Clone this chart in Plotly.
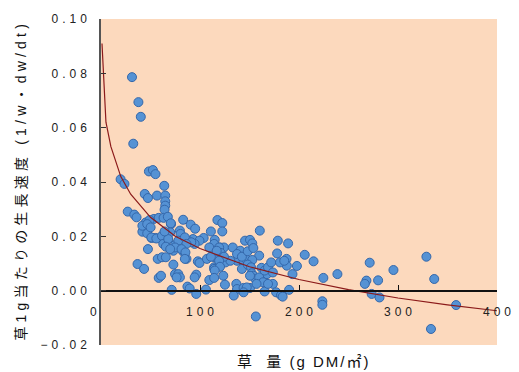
import plotly.graph_objects as go

# Observed data: herbage mass (g DM/m2) vs relative growth rate
herbage_mass = [
    31.3, 37.8, 40.2, 32.6, 19.8, 23.7, 48.4, 52.4, 55.0, 63.9,
    44.2, 47.4, 56.6, 64.9, 27.0, 33.6, 35.9, 64.9, 64.9, 64.2,
    53.4, 58.3, 63.2, 67.5, 45.2, 49.1, 70.8, 83.0, 90.6, 95.1,
    41.8, 46.7, 51.1, 55.0, 65.9, 67.5, 79.7, 80.3, 103.7, 117.6,
    122.5, 122.5, 111.0, 114.9, 114.3, 120.2, 124.2, 47.4, 57.3, 61.6,
    65.5, 73.1, 36.9, 43.5, 74.8, 78.1, 79.7, 58.3, 60.6, 71.4,
    97.8, 96.2, 94.6, 109.4, 114.3, 119.3, 123.5, 125.2, 87.3, 89.6,
    96.2, 106.0, 133.1, 140.6, 145.5, 150.5, 152.8, 160.4, 159.8, 178.6,
    177.9, 189.0, 187.4, 187.7, 137.4, 144.0, 147.2, 152.8, 142.3, 148.2,
    151.5, 162.1, 167.7, 152.2, 153.9, 156.1, 160.4, 173.6, 136.7, 137.4,
    134.1, 144.0, 150.5, 165.3, 176.9, 181.8, 183.5, 190.0, 156.4, 193.4,
    197.9, 205.8, 214.7, 224.6, 238.8, 223.6, 223.6, 271.4, 268.1, 266.5,
    279.9, 295.4, 273.4, 281.3, 328.7, 336.6, 358.7, 333.3, 99.5, 76.4,
    69.9, 74.8, 83.0, 73.1, 86.3, 92.9, 99.5, 94.6, 87.9, 78.1,
    107.0, 114.3, 122.5, 125.8, 130.7, 109.4, 119.3, 120.9, 114.3, 50.9,
    55.9, 61.6, 62.9, 67.9, 70.5, 64.2, 84.7, 91.2, 86.3, 74.8,
    81.3, 85.3, 84.7, 111.0, 116.9, 124.2, 119.3, 120.2, 114.9, 114.3,
    137.4, 142.3, 148.2, 153.9, 150.5, 159.8, 165.3, 168.7, 173.6, 171.9,
    180.8, 185.1, 163.7, 168.7, 157.1, 147.2, 144.0, 41.8, 46.7, 50.1,
    65.5, 69.9,
]
growth_rate = [
    0.0786, 0.0694, 0.0640, 0.0541, 0.0410, 0.0393, 0.0439, 0.0444, 0.0429, 0.0386,
    0.0356, 0.0341, 0.0350, 0.0350, 0.0291, 0.0280, 0.0270, 0.0329, 0.0313, 0.0298,
    0.0264, 0.0268, 0.0268, 0.0272, 0.0251, 0.0260, 0.0245, 0.0261, 0.0243, 0.0228,
    0.0217, 0.0211, 0.0194, 0.0194, 0.0202, 0.0190, 0.0221, 0.0209, 0.0194, 0.0260,
    0.0249, 0.0218, 0.0218, 0.0187, 0.0172, 0.0159, 0.0159, 0.0153, 0.0117, 0.0123,
    0.0123, 0.0096, 0.0098, 0.0080, 0.0061, 0.0061, 0.0049, 0.0047, 0.0055, 0.0003,
    0.0108, 0.0059, 0.0049, 0.0039, 0.0086, 0.0092, 0.0055, 0.0022, 0.0015, 0.0008,
    -0.0012, 0.0004, 0.0159, 0.0147, 0.0184, 0.0187, 0.0174, 0.0221, 0.0129, 0.0184,
    0.0137, 0.0174, 0.0117, 0.0092, 0.0110, 0.0108, 0.0114, 0.0113, 0.0080, 0.0096,
    0.0086, 0.0084, 0.0061, 0.0064, 0.0055, 0.0043, 0.0040, 0.0025, 0.0025, 0.0006,
    -0.0018, 0.0010, 0.0010, -0.0003, -0.0006, -0.0017, -0.0022, 0.0003, -0.0095, 0.0061,
    0.0091, 0.0132, 0.0108, 0.0047, 0.0061, -0.0039, -0.0052, 0.0103, 0.0037, 0.0025,
    0.0038, 0.0076, -0.0012, -0.0025, 0.0125, 0.0043, -0.0053, -0.0141, 0.0102, 0.0049,
    0.0215, 0.0168, 0.0144, 0.0147, 0.0117, 0.0190, 0.0184, 0.0172, 0.0184, 0.0184,
    0.0117, 0.0123, 0.0123, 0.0104, 0.0110, 0.0159, 0.0159, 0.0139, 0.0080, 0.0196,
    0.0192, 0.0202, 0.0172, 0.0190, 0.0248, 0.0218, 0.0196, 0.0178, 0.0172, 0.0159,
    0.0153, 0.0141, 0.0117, 0.0125, 0.0147, 0.0125, 0.0110, 0.0088, 0.0074, 0.0047,
    0.0135, 0.0125, 0.0145, 0.0157, 0.0055, 0.0049, 0.0074, 0.0086, 0.0067, 0.0104,
    0.0104, 0.0110, 0.0031, 0.0025, 0.0025, 0.0012, -0.0006, 0.0239, 0.0245, 0.0233,
    0.0162, 0.0153,
]

# Trend curve
trend_x = [1, 5, 10, 20, 30, 50, 75, 100, 150, 200, 250, 300, 350, 400]
trend_y = [0.091, 0.062, 0.053, 0.042, 0.0355, 0.027, 0.020, 0.0155, 0.0088,
           0.0041, 0.0004, -0.0027, -0.0052, -0.0074]

x_tickvals = [100, 200, 300, 400]
y_tickvals = [-0.02, 0.0, 0.02, 0.04, 0.06, 0.08, 0.10]

x_title = "草\u00a0 量 (g DM/㎡)"
y_title = "草1g当たりの生長速度 (1/w・dw/dt)"

fig = go.Figure()
fig.add_trace(go.Scatter(
    x=herbage_mass, y=growth_rate, mode="markers",
    marker=dict(size=9, color="#5592D4", line=dict(color="#3467AA", width=1)),
    showlegend=False, hoverinfo="skip",
))
fig.add_trace(go.Scatter(
    x=trend_x, y=trend_y, mode="lines",
    line=dict(color="#8B1A1A", width=1.2),
    showlegend=False, hoverinfo="skip",
))

tick_font = dict(family="Liberation Sans, Arial, sans-serif", size=12, color="#222222")
title_font = dict(family="Liberation Sans, Noto Sans CJK JP, sans-serif", size=14, color="#111111")
xtitle_font = dict(family="Liberation Sans, Noto Sans CJK JP, sans-serif", size=15, color="#111111")
x_pos = (0 - (-0.02)) / 0.12

fig.update_layout(
    width=519, height=372, autosize=False,
    margin=dict(l=101, r=13, t=18, b=27, pad=0),
    paper_bgcolor="white", plot_bgcolor="#FCD9BD",
    xaxis=dict(
        range=[0, 400], tickvals=x_tickvals, ticktext=[str(v) for v in x_tickvals],
        showgrid=False, zeroline=False, showline=True, linecolor="#111111", linewidth=1.5,
        ticks="inside", ticklen=5, tickwidth=1.2, tickcolor="#111111",
        anchor="free", position=x_pos, tickfont=tick_font, ticklabelstandoff=10,
        ticklabeloverflow="allow",
    ),
    yaxis=dict(
        range=[-0.02, 0.10], tickvals=y_tickvals, tickformat=".2f",
        showgrid=False, zeroline=False, showline=True, linecolor="#555555", linewidth=1.5,
        ticks="inside", ticklen=5, tickwidth=1.2, tickcolor="#333333",
        tickfont=tick_font, ticklabelstandoff=6,
    ),
    font=dict(family="Liberation Sans, Noto Sans CJK JP, sans-serif"),
    annotations=[
        dict(text="0", xref="paper", yref="paper", x=(93 - 101) / 405, y=(345 - 312) / 327,
             xanchor="center", yanchor="middle", showarrow=False, font=tick_font),
        dict(text=x_title, xref="paper", yref="paper", x=(309 - 101) / 405, y=(345 - 362) / 327,
             xanchor="center", yanchor="middle", showarrow=False, font=xtitle_font),
        dict(text=y_title, xref="paper", yref="paper", x=(19 - 101) / 405, y=(345 - 180) / 327,
             xanchor="center", yanchor="middle", showarrow=False, textangle=-90, font=title_font),
    ],
)

post = """
document.body.style.margin = '0';
document.body.style.padding = '0';
var gd = document.getElementById('{plot_id}');
gd.querySelectorAll('.ytick text').forEach(function(t){t.style.letterSpacing='4px';});
gd.querySelectorAll('.xtick text').forEach(function(t){t.style.letterSpacing='4px'; t.setAttribute('dx','2');});
gd.querySelectorAll('.annotation-text').forEach(function(t){
  if (t.textContent.indexOf('1/w') >= 0) { t.style.letterSpacing='4.2px'; }
  if (t.textContent.indexOf('DM') >= 0) { t.style.letterSpacing='2px'; }
});
"""
fig.write_html("out.html", post_script=post, config={"displayModeBar": False})
